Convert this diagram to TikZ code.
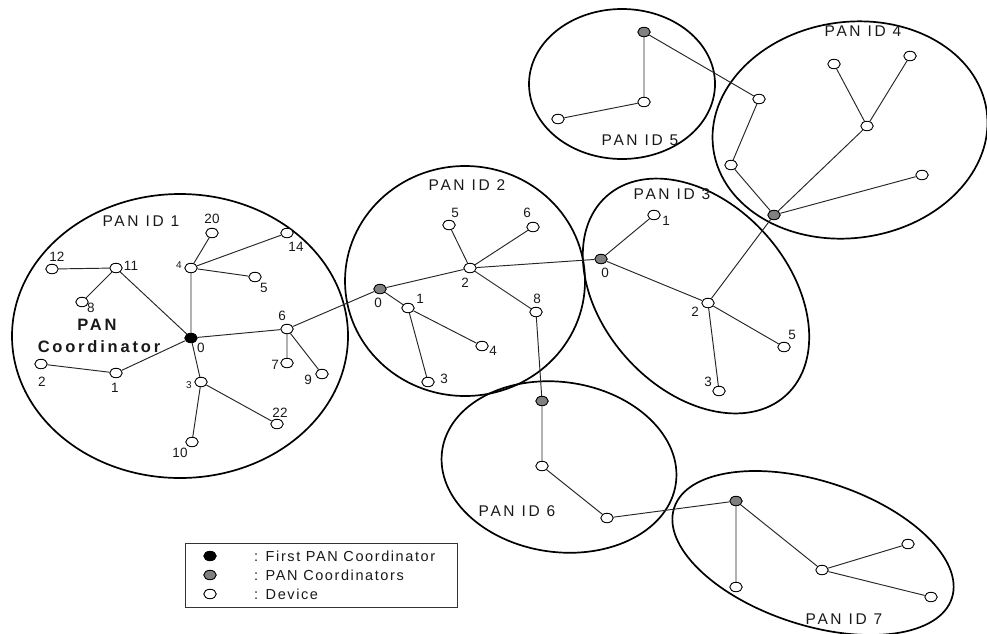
\documentclass[tikz,border=0pt]{standalone}
\usepackage{fontspec}
\setmainfont{Liberation Sans}
\newfontfamily\spacedfont[LetterSpace=17]{Liberation Sans}
\newfontfamily\legfont[LetterSpace=11]{Liberation Sans}
\usetikzlibrary{shapes.geometric}
\begin{document}
\begin{tikzpicture}[x=1pt,y=-1pt,
  dev/.style={ellipse,draw=black,line width=0.9pt,fill=white,minimum width=12.5pt,minimum height=9.5pt,inner sep=0pt},
  pancoord/.style={dev,fill=black!50},
  firstcoord/.style={dev,fill=black},
  link/.style={line width=0.95pt,draw=black!85},
  panarea/.style={line width=1.7pt,draw=black},
  num/.style={font=\fontsize{13.5}{15}\selectfont,text=black!90,inner sep=0pt},
  snum/.style={font=\fontsize{10}{11}\selectfont,text=black!90,inner sep=0pt},
  panlbl/.style={font=\spacedfont\fontsize{15.5}{17}\selectfont,text=black!90,inner sep=0pt},
  legtxt/.style={font=\legfont\fontsize{14.5}{16}\selectfont,text=black!90,inner sep=0pt,anchor=west}]
\useasboundingbox (0,0) rectangle (987,633);

% PAN areas
\draw[panarea] (180,336) ellipse [x radius=168, y radius=142];
\draw[panarea] (465,281) ellipse [x radius=120, y radius=115];
\draw[panarea, rotate around={-48:(696,296)}] (696,296) ellipse [x radius=134, y radius=93];
\draw[panarea, rotate around={8:(850,130)}] (850,130) ellipse [x radius=138, y radius=108];
\draw[panarea] (622,84) ellipse [x radius=93, y radius=75];
\draw[panarea, rotate around={-8:(559,467)}] (559,467) ellipse [x radius=118, y radius=85];
\draw[panarea, rotate around={-18:(813,553)}] (813,553) ellipse [x radius=146, y radius=72];

% Cluster 1
\node[firstcoord] (a0) at (191,338) {};
\node[dev] (a11) at (116,268) {};
\node[dev] (a12) at (52,269) {};
\node[dev] (a8) at (82,302) {};
\node[dev] (a4) at (191,268) {};
\node[dev] (a20) at (212,233) {};
\node[dev] (a14) at (287,233) {};
\node[dev] (a5) at (255,277) {};
\node[dev] (a6) at (287,329) {};
\node[dev] (a7) at (287,363) {};
\node[dev] (a9) at (322,374) {};
\node[dev] (a3) at (201,382) {};
\node[dev] (a22) at (277,424) {};
\node[dev] (a10) at (192,442) {};
\node[dev] (a1) at (116,373) {};
\node[dev] (a2) at (41,364) {};

% Cluster 2
\node[pancoord] (b0) at (380,289) {};
\node[dev] (b2) at (470,268) {};
\node[dev] (b5) at (449,225) {};
\node[dev] (b6) at (533,227) {};
\node[dev] (b8) at (536,312) {};
\node[dev] (b1) at (408,308) {};
\node[dev] (b4) at (482,346) {};
\node[dev] (b3) at (428,382) {};

% Cluster 3
\node[pancoord] (c0) at (601,259) {};
\node[dev] (c1) at (654,215) {};
\node[dev] (c2) at (708,303) {};
\node[dev] (c5) at (784,347) {};
\node[dev] (c3) at (719,391) {};

% Cluster 4
\node[pancoord] (d0) at (774,215) {};
\node[dev] (d1) at (759,99) {};
\node[dev] (d2) at (731,165) {};
\node[dev] (d3) at (867,126) {};
\node[dev] (d4) at (834,64) {};
\node[dev] (d5) at (910,56) {};
\node[dev] (d6) at (922,175) {};

% Cluster 5
\node[pancoord] (e0) at (644,32) {};
\node[dev] (e1) at (644,102) {};
\node[dev] (e2) at (558,119) {};

% Cluster 6
\node[pancoord] (f0) at (542,401) {};
\node[dev] (f1) at (542,466) {};
\node[dev] (f2) at (607,518) {};

% Cluster 7
\node[pancoord] (g0) at (736,501) {};
\node[dev] (g1) at (736,587) {};
\node[dev] (g2) at (822,570) {};
\node[dev] (g3) at (908,544) {};
\node[dev] (g4) at (931,597) {};

% Links
\draw[link] (a0)--(a11) (a11)--(a12) (a11)--(a8) (a0)--(a4) (a4)--(a20) (a4)--(a14) (a4)--(a5)
  (a0)--(a6) (a6)--(a7) (a6)--(a9) (a0)--(a1) (a1)--(a2) (a0)--(a3) (a3)--(a22) (a3)--(a10)
  (a6)--(b0);
\draw[link] (b0)--(b2) (b2)--(b5) (b2)--(b6) (b2)--(b8) (b0)--(b1) (b1)--(b4) (b1)--(b3)
  (b2)--(c0) (b8)--(f0);
\draw[link] (c0)--(c1) (c0)--(c2) (c2)--(c5) (c2)--(c3) (c2)--(d0);
\draw[link] (d0)--(d2) (d2)--(d1) (d1)--(e0) (d0)--(d3) (d3)--(d4) (d3)--(d5) (d0)--(d6);
\draw[link] (e0)--(e1) (e1)--(e2);
\draw[link] (f0)--(f1) (f1)--(f2) (f2)--(g0);
\draw[link] (g0)--(g1) (g0)--(g2) (g2)--(g3) (g2)--(g4);

% Labels cluster 1
\node[num] (la0) at (201,348) {0};
\node[num] (la11) at (131,266) {11};
\node[num] (la12) at (57,257) {12};
\node[num] (la8) at (91,308) {8};
\node[snum] (la4) at (179,265) {4};
\node[num] (la20) at (212,219) {20};
\node[num] (la14) at (296,247) {14};
\node[num] (la5) at (264,288) {5};
\node[num] (la6) at (282,316) {6};
\node[num] (la7) at (275,365) {7};
\node[num] (la9) at (308,380) {9};
\node[snum] (la3) at (189,385) {3};
\node[num] (la22) at (280,413) {22};
\node[num] (la10) at (180,453) {10};
\node[num] (la1) at (115,388) {1};
\node[num] (la2) at (42,382) {2};

% Labels cluster 2
\node[num] (lb0) at (378,303) {0};
\node[num] (lb2) at (465,283) {2};
\node[num] (lb5) at (455,213) {5};
\node[num] (lb6) at (527,213) {6};
\node[num] (lb8) at (537,299) {8};
\node[num] (lb1) at (420,299) {1};
\node[num] (lb4) at (493,351) {4};
\node[num] (lb3) at (444,379) {3};

% Labels cluster 3
\node[num] (lc0) at (605,273) {0};
\node[num] (lc1) at (666,221) {1};
\node[num] (lc2) at (695,312) {2};
\node[num] (lc5) at (792,335) {5};
\node[num] (lc3) at (708,382) {3};

% PAN labels
\node[panlbl] (p1) at (141,221) {PAN ID 1};
\node[panlbl] (p2) at (467,185) {PAN ID 2};
\node[panlbl] (p3) at (672,194) {PAN ID 3};
\node[panlbl] (p4) at (863,31) {PAN ID 4};
\node[panlbl] (p5) at (640,140) {PAN ID 5};
\node[panlbl] (p6) at (517,511) {PAN ID 6};
\node[panlbl] (p7) at (844,619) {PAN ID 7};

\node[font=\spacedfont\bfseries\fontsize{16.5}{18}\selectfont,text=black!90,inner sep=0pt] (pc1) at (97,325) {PAN};
\node[font=\spacedfont\bfseries\fontsize{16.5}{18}\selectfont,text=black!90,inner sep=0pt] (pc2) at (99,347) {Coordinator};

% Legend
\node[draw=black!80,line width=1.2pt,minimum width=272pt,minimum height=64pt,inner sep=0pt,anchor=north west] (legend) at (185,543) {};
\node[firstcoord] (k1) at (210,556) {};
\node[pancoord] (k2) at (210,575) {};
\node[dev] (k3) at (210,594) {};
\node[legtxt] (t1) at (254,556) {: First PAN Coordinator};
\node[legtxt] (t2) at (254,575) {: PAN Coordinators};
\node[legtxt] (t3) at (254,594) {: Device};
\end{tikzpicture}
\end{document}
